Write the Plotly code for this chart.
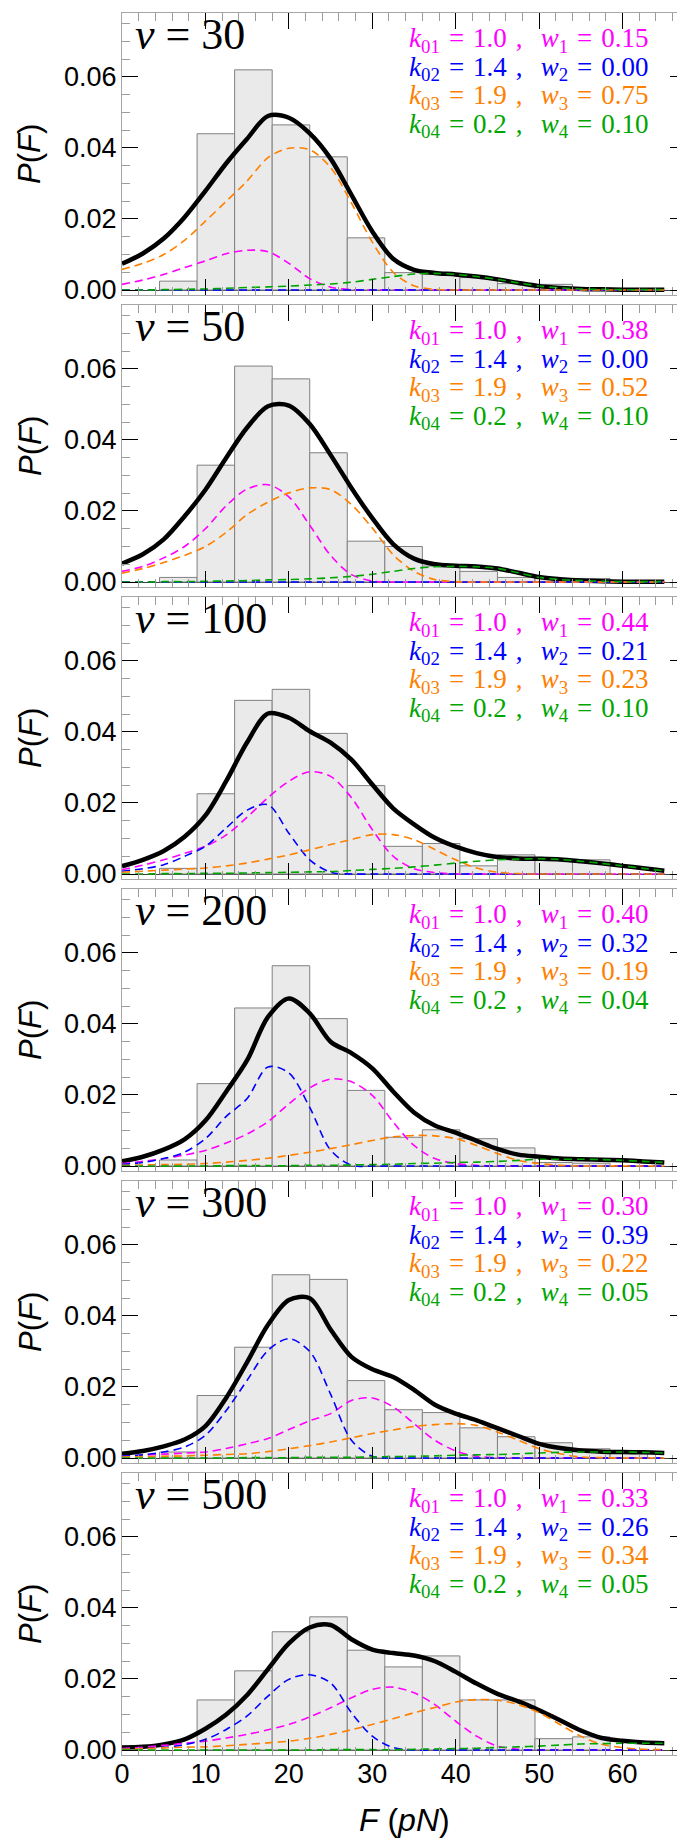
import plotly.graph_objects as go

# ---------------- data ----------------
SPEEDS = [30, 50, 100, 200, 300, 500]
K0 = [1.0, 1.4, 1.9, 0.2]
WEIGHTS = {
    30: [0.15, 0.00, 0.75, 0.10],
    50: [0.38, 0.00, 0.52, 0.10],
    100: [0.44, 0.21, 0.23, 0.10],
    200: [0.40, 0.32, 0.19, 0.04],
    300: [0.30, 0.39, 0.22, 0.05],
    500: [0.33, 0.26, 0.34, 0.05],
}

BIN_LEFT = [0, 4.5, 9, 13.5, 18, 22.5, 27, 31.5, 36, 40.5, 45, 49.5, 54, 58.5]
BIN_WIDTH = 4.5

HIST = {
    30: [0, .0025, .0440, .0620, .0465, .0375, .0147, .0049, .0044, .0035, .0018, .0016, 0, 0],
    50: [0, .0013, .0329, .0608, .0572, .0364, .0115, .0100, .0045, .0030, .0013, .0010, .0010, 0],
    100: [0, .0016, .0226, .0489, .0520, .0396, .0249, .0078, .0086, .0023, .0054, .0040, .0040, 0],
    200: [0, .0017, .0232, .0445, .0564, .0415, .0213, .0081, .0102, .0077, .0051, .0010, .0008, 0],
    300: [0, .0017, .0176, .0312, .0516, .0503, .0218, .0136, .0128, .0085, .0060, .0043, .0026, .0017],
    500: [0, 0, .0141, .0223, .0333, .0375, .0281, .0234, .0265, .0141, .0141, .0032, .0037, 0],
}

F_GRID = [0, 2.5, 5, 7.5, 10, 12.5, 15, 17.5, 20, 22.5, 25, 27.5, 30, 32.5,
          35, 37.5, 40, 42.5, 45, 47.5, 50, 52.5, 55, 57.5, 60, 62.5, 65]

TOTAL = {
    30: [.0074, .0103, .0145, .0205, .0279, .0357, .0426, .0490, .0485, .0441, .0370, .0268, .0165, .0088,
         .0057, .0048, .0044, .0038, .0030, .0020, .0011, .0006, .0003, .0002, .0001, .0001, .0001],
    50: [.0052, .0078, .0120, .0185, .0260, .0350, .0435, .0495, .0497, .0445, .0358, .0265, .0180, .0107,
         .0066, .0050, .0046, .0044, .0038, .0026, .0014, .0008, .0004, .0002, .0001, .0001, .0001],
    100: [.0022, .0040, .0065, .0105, .0165, .0262, .0371, .0452, .0440, .0402, .0370, .0322, .0252, .0185,
          .0140, .0102, .0077, .0059, .0048, .0044, .0043, .0041, .0036, .0030, .0023, .0016, .0009],
    200: [.0013, .0026, .0046, .0075, .0128, .0210, .0298, .0420, .0472, .0430, .0350, .0318, .0275, .0210,
          .0151, .0114, .0094, .0071, .0048, .0032, .0026, .0021, .0019, .0018, .0016, .0013, .0010],
    300: [.0012, .0020, .0033, .0052, .0090, .0170, .0270, .0375, .0445, .0450, .0362, .0285, .0250, .0228,
          .0192, .0150, .0125, .0106, .0084, .0062, .0040, .0028, .0021, .0018, .0017, .0016, .0014],
    500: [.0007, .0009, .0016, .0030, .0060, .0100, .0155, .0228, .0300, .0345, .0352, .0312, .0283, .0273,
          .0266, .0250, .0220, .0187, .0158, .0137, .0112, .0084, .0055, .0034, .0026, .0021, .0019],
}

COMP1 = {  # magenta
    30: [.0016, .0028, .0044, .0063, .0082, .0102, .0112, .0108, .0075, .0032, .0008, .0001, 0, 0,
         0, 0, 0, 0, 0, 0, 0, 0, 0, 0, 0, 0, 0],
    50: [.0030, .0044, .0068, .0100, .0150, .0215, .0262, .0274, .0240, .0160, .0075, .0021, .0003, 0,
         0, 0, 0, 0, 0, 0, 0, 0, 0, 0, 0, 0, 0],
    100: [.0012, .0025, .0040, .0058, .0078, .0110, .0160, .0215, .0261, .0288, .0275, .0215, .0125, .0050,
          .0015, .0004, 0, 0, 0, 0, 0, 0, 0, 0, 0, 0, 0],
    200: [.0007, .0013, .0021, .0031, .0044, .0065, .0090, .0125, .0175, .0220, .0245, .0237, .0199, .0124,
          .0058, .0021, .0007, .0002, 0, 0, 0, 0, 0, 0, 0, 0, 0],
    300: [.0005, .0008, .0011, .0014, .0017, .0027, .0040, .0055, .0080, .0105, .0125, .0162, .0169, .0144,
          .0097, .0050, .0020, .0005, .0001, 0, 0, 0, 0, 0, 0, 0, 0],
    500: [.0004, .0008, .0013, .0019, .0025, .0034, .0044, .0057, .0072, .0093, .0119, .0147, .0171, .0177,
          .0161, .0128, .0081, .0039, .0011, .0002, 0, 0, 0, 0, 0, 0, 0],
}

COMP2 = {  # blue
    30: [0, 0, 0, 0, 0, 0, 0, 0, 0, 0, 0, 0, 0, 0, 0, 0, 0, 0, 0, 0, 0, 0, 0, 0, 0, 0, 0],
    50: [0, 0, 0, 0, 0, 0, 0, 0, 0, 0, 0, 0, 0, 0, 0, 0, 0, 0, 0, 0, 0, 0, 0, 0, 0, 0, 0],
    100: [.0008, .0015, .0026, .0050, .0078, .0130, .0180, .0195, .0115, .0040, .0005, 0, 0, 0,
          0, 0, 0, 0, 0, 0, 0, 0, 0, 0, 0, 0, 0],
    200: [.0004, .0010, .0021, .0039, .0077, .0140, .0190, .0279, .0262, .0165, .0045, .0002, 0, 0,
          0, 0, 0, 0, 0, 0, 0, 0, 0, 0, 0, 0, 0],
    300: [.0005, .0009, .0017, .0031, .0064, .0134, .0219, .0303, .0336, .0300, .0180, .0050, .0005, 0,
          0, 0, 0, 0, 0, 0, 0, 0, 0, 0, 0, 0, 0],
    500: [.0002, .0004, .0007, .0015, .0030, .0058, .0096, .0152, .0199, .0212, .0189, .0105, .0039, .0007,
          0, 0, 0, 0, 0, 0, 0, 0, 0, 0, 0, 0, 0],
}

COMP3 = {  # orange
    30: [.0058, .0075, .0100, .0140, .0194, .0250, .0307, .0373, .0399, .0395, .0345, .0245, .0135, .0050,
         .0012, .0002, 0, 0, 0, 0, 0, 0, 0, 0, 0, 0, 0],
    50: [.0025, .0038, .0055, .0075, .0100, .0140, .0190, .0225, .0251, .0265, .0260, .0218, .0152, .0077,
         .0030, .0007, .0001, 0, 0, 0, 0, 0, 0, 0, 0, 0, 0],
    100: [.0005, .0008, .0011, .0014, .0017, .0023, .0031, .0042, .0054, .0068, .0083, .0097, .0111, .0111,
          .0097, .0069, .0040, .0017, .0005, .0001, 0, 0, 0, 0, 0, 0, 0],
    200: [.0002, .0003, .0004, .0005, .0007, .0011, .0016, .0022, .0030, .0039, .0049, .0060, .0072, .0082,
          .0086, .0085, .0077, .0058, .0035, .0016, .0007, .0002, 0, 0, 0, 0, 0],
    300: [.0003, .0004, .0005, .0006, .0008, .0010, .0012, .0018, .0026, .0035, .0045, .0057, .0069, .0079,
          .0089, .0094, .0097, .0092, .0073, .0050, .0026, .0012, .0003, .0001, 0, 0, 0],
    500: [.0002, .0004, .0006, .0008, .0009, .0012, .0016, .0020, .0025, .0033, .0044, .0057, .0072, .0088,
          .0105, .0120, .0135, .0142, .0140, .0128, .0105, .0072, .0039, .0016, .0007, .0002, .0001],
}

COMP4 = {  # green
    30: [0, 0, .0001, .0002, .0003, .0005, .0007, .0009, .0011, .0014, .0017, .0022, .0030, .0038,
         .0045, .0047, .0044, .0038, .0030, .0020, .0011, .0006, .0003, .0002, .0001, .0001, .0001],
    50: [0, 0, .0001, .0001, .0002, .0003, .0004, .0006, .0007, .0009, .0012, .0016, .0022, .0030,
         .0038, .0043, .0044, .0043, .0038, .0026, .0013, .0007, .0004, .0002, .0001, .0001, .0001],
    100: [0, 0, .0001, .0001, .0002, .0002, .0003, .0004, .0005, .0006, .0007, .0010, .0013, .0016,
          .0020, .0025, .0031, .0036, .0040, .0042, .0043, .0041, .0036, .0030, .0023, .0016, .0009],
    200: [0, 0, 0, 0, 0, .0001, .0001, .0001, .0001, .0002, .0002, .0003, .0004, .0005,
          .0007, .0008, .0010, .0011, .0013, .0016, .0019, .0019, .0019, .0018, .0016, .0013, .0010],
    300: [0, 0, 0, 0, 0, 0, .0001, .0001, .0001, .0002, .0002, .0002, .0003, .0004,
          .0005, .0006, .0008, .0009, .0010, .0012, .0014, .0016, .0017, .0017, .0017, .0016, .0014],
    500: [0, 0, 0, 0, 0, 0, 0, 0, 0, 0, .0001, .0001, .0001, .0001,
          .0002, .0003, .0004, .0005, .0007, .0009, .0011, .0014, .0017, .0018, .0019, .0019, .0019],
}

COMP_COLORS = ["#ff00ff", "#0000ff", "#ff8000", "#00a600"]
X_TICKS = [0, 10, 20, 30, 40, 50, 60]
Y_TICKS = [0.0, 0.02, 0.04, 0.06]

# ---------------- layout geometry ----------------
W_PX, H_PX = 685, 1840
M_L, M_R, M_T, M_B = 114, 7, 5, 93
PANEL_H, PANEL_STEP = 282, 292
PLOT_H = H_PX - M_T - M_B

fig = go.Figure()
GAP = "\u2004"  # three-per-em space

for i, v in enumerate(SPEEDS):
    n = i + 1
    xa = "x" if n == 1 else f"x{n}"
    ya = "y" if n == 1 else f"y{n}"

    centers = [l + BIN_WIDTH / 2 for l in BIN_LEFT]
    heights = [h if h > 0 else None for h in HIST[v]]
    fig.add_trace(go.Bar(
        x=centers, y=heights, width=BIN_WIDTH, xaxis=xa, yaxis=ya,
        marker=dict(color="#eaeaea", line=dict(color="#808080", width=1)),
        showlegend=False, hoverinfo="skip"))

    fig.add_trace(go.Scatter(
        x=F_GRID, y=TOTAL[v], mode="lines", xaxis=xa, yaxis=ya,
        line=dict(color="black", width=4.5, shape="spline", smoothing=0.9),
        showlegend=False, hoverinfo="skip"))

    for comp, col in zip([COMP1, COMP2, COMP3, COMP4], COMP_COLORS):
        fig.add_trace(go.Scatter(
            x=F_GRID, y=comp[v], mode="lines", xaxis=xa, yaxis=ya,
            line=dict(color=col, width=1.6, dash="8px,5px", shape="spline", smoothing=0.9),
            showlegend=False, hoverinfo="skip"))

    top_px = M_T + PANEL_STEP * i
    bot_px = top_px + PANEL_H
    dom = [(H_PX - M_B - bot_px) / PLOT_H, (H_PX - M_B - top_px) / PLOT_H]

    axis_common = dict(
        showline=True, linecolor="#a6a6a6", linewidth=1, mirror="ticks",
        ticks="inside", tickcolor="black", tickwidth=1, ticklen=16,
        showgrid=False,
        tickfont=dict(family="Liberation Sans, Arial, sans-serif", size=27, color="black"),
    )
    xkey = "xaxis" if n == 1 else f"xaxis{n}"
    ykey = "yaxis" if n == 1 else f"yaxis{n}"
    fig.layout[xkey] = dict(
        axis_common, domain=[0, 1], anchor=ya, range=[0, 67.6],
        tickvals=X_TICKS, showticklabels=(n == len(SPEEDS)), zeroline=False,
        ticklabelstandoff=-5,
        minor=dict(ticks="inside", dtick=2, tick0=0, ticklen=8, tickcolor="#9c9c9c", tickwidth=1),
    )
    fig.layout[ykey] = dict(
        axis_common, domain=dom, anchor=xa, range=[-0.0014, 0.078],
        tickvals=Y_TICKS, tickformat=".2f", ticklabelstandoff=-1,
        zeroline=True, zerolinecolor="#404040", zerolinewidth=1,
        minor=dict(ticks="inside", dtick=0.005, tick0=0, ticklen=8, tickcolor="#9c9c9c", tickwidth=1),
    )

    # speed label
    fig.add_annotation(
        text=f"<i>v</i> = {v}", showarrow=False,
        xref=f"{xa} domain", yref=f"{ya} domain", x=0.02, y=0.924,
        xanchor="left", yanchor="middle",
        font=dict(family="Liberation Serif, Times New Roman, serif", size=44, color="black"))

    # parameter block (one text, four coloured lines)
    lines = []
    for j in range(4):
        body = (f"<i>k</i><sub>0{j+1}</sub>{GAP}={GAP}{K0[j]:.1f}{GAP},{GAP}{GAP}"
                f"<i>w</i><sub>{j+1}</sub>{GAP}={GAP}{WEIGHTS[v][j]:.2f}")
        lines.append(f"<span style='color:{COMP_COLORS[j]};font-size:27px'>{body}</span>")
    fig.add_annotation(
        text="<br>".join(lines), showarrow=False, align="right",
        xref=f"{xa} domain", yref=f"{ya} domain", x=0.938, y=0.754,
        xanchor="right", yanchor="middle",
        font=dict(family="Liberation Serif, Times New Roman, serif", size=22, color=COMP_COLORS[0]))

    # y title
    fig.add_annotation(
        text="<i>P</i>(<i>F</i>)", showarrow=False, textangle=-90,
        xref="paper", yref=f"{ya} domain", x=(22 - M_L) / (W_PX - M_L - M_R), y=0.5,
        xanchor="center", yanchor="middle",
        font=dict(family="Liberation Sans, Arial, sans-serif", size=31, color="black"))

# x title
fig.add_annotation(
    text="<i>F</i> (<i>pN</i>)", showarrow=False,
    xref="paper", yref="paper", x=0.5, y=(H_PX - M_B - 1812) / PLOT_H,
    xanchor="center", yanchor="middle",
    font=dict(family="Liberation Sans, Arial, sans-serif", size=32, color="black"))

fig.update_layout(
    width=W_PX, height=H_PX,
    margin=dict(l=M_L, r=M_R, t=M_T, b=M_B),
    paper_bgcolor="white", plot_bgcolor="white",
    barmode="overlay", showlegend=False,
)

fig.write_html("out.html")
